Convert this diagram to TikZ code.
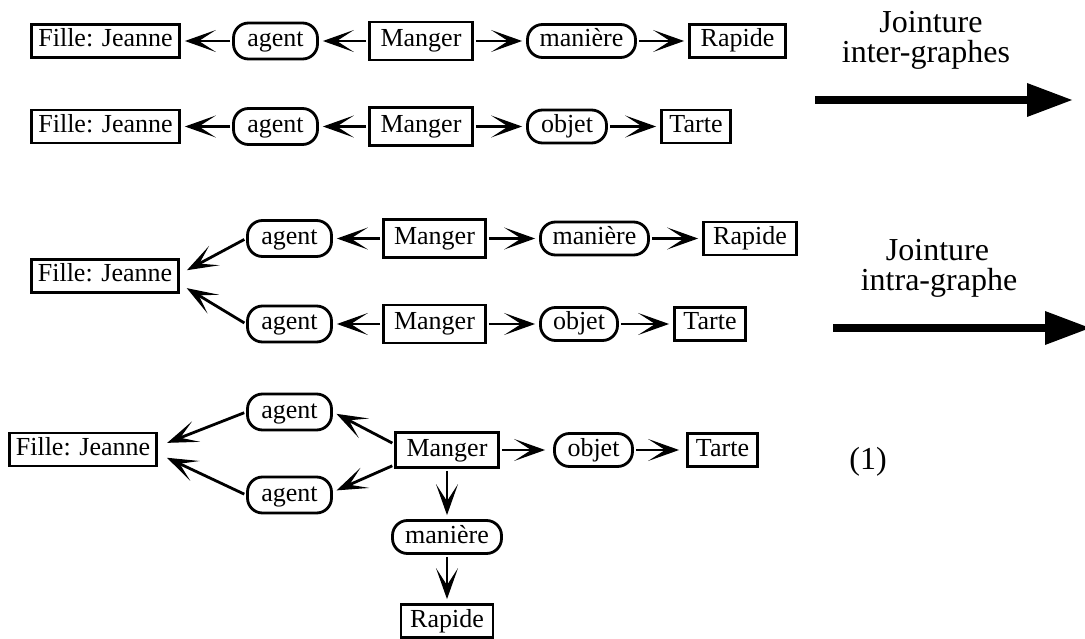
\documentclass[tikz,border=0pt]{standalone}
\usepackage{fontspec}
\setmainfont{Liberation Serif}
\usetikzlibrary{arrows.meta,calc}
\tikzset{
  linktip/.tip={Stealth[length=31pt,width=22pt,inset=17pt,line width=1.3pt]},
  bigtip/.tip={Triangle[length=45pt,width=34pt,line width=0pt]}
}
\begin{document}
\begin{tikzpicture}[x=1pt,y=-1pt,
  every node/.style={font=\fontsize{26}{30}\selectfont},
  concept/.style={draw, line width=2.8pt, inner sep=0pt, text height=18pt, text depth=6pt, minimum height=33pt},
  relation/.style={concept, rounded corners=15pt},
  link/.style={line width=2.8pt, -linktip, shorten <=2pt, shorten >=4pt},
  bigarrow/.style={line width=8pt, -bigtip},
  jlabel/.style={font=\fontsize{32}{36}\selectfont, inner sep=0pt}
]
\path[use as bounding box] (0,0) rectangle (1085,639);
\clip (0,0) rectangle (1085,639);

% --- first pair of graphs
\node[concept, minimum width=148pt] (f1) at (105.5,41) {Fille: Jeanne};
\node[relation, minimum width=84pt, minimum height=36pt] (a1) at (275.5,41) {agent};
\node[concept, minimum width=103pt, minimum height=38pt] (m1) at (421,41) {Manger};
\node[relation, minimum width=108pt] (n1) at (581.5,41) {manière};
\node[concept, minimum width=96pt] (r1) at (737.5,41) {Rapide};
\draw[link] (m1) -- (a1);
\draw[link] (a1) -- (f1);
\draw[link] (m1) -- (n1);
\draw[link] (n1) -- (r1);

\node[concept, minimum width=148pt] (f2) at (105.5,126.5) {Fille: Jeanne};
\node[relation, minimum width=84pt, minimum height=36pt] (a2) at (275.5,126.5) {agent};
\node[concept, minimum width=103pt, minimum height=38pt] (m2) at (421,126.5) {Manger};
\node[relation, minimum width=79pt] (o2) at (567,126.5) {objet};
\node[concept, minimum width=69pt] (t2) at (696,126.5) {Tarte};
\draw[link] (m2) -- (a2);
\draw[link] (a2) -- (f2);
\draw[link] (m2) -- (o2);
\draw[link] (o2) -- (t2);

% --- after the inter-graph join
\node[concept, minimum width=147pt] (f3) at (105,276) {Fille: Jeanne};
\node[relation, minimum width=84pt, minimum height=36pt] (a3) at (289.5,238.5) {agent};
\node[relation, minimum width=84pt, minimum height=36pt] (a4) at (289.5,324) {agent};
\node[concept, minimum width=102pt, minimum height=38pt] (m3) at (434.5,238.5) {Manger};
\node[relation, minimum width=108pt] (n3) at (594.5,238.5) {manière};
\node[concept, minimum width=93pt] (r3) at (750,238.5) {Rapide};
\node[concept, minimum width=102pt, minimum height=38pt] (m4) at (434.5,324) {Manger};
\node[relation, minimum width=77pt] (o4) at (579,324) {objet};
\node[concept, minimum width=71pt] (t4) at (710,324) {Tarte};
\draw[link] (m3) -- (a3);
\draw[link, shorten >=8pt] (a3.west) -- ($(f3.east)+(0,-2)$);
\draw[link] (m3) -- (n3);
\draw[link] (n3) -- (r3);
\draw[link] (m4) -- (a4);
\draw[link, shorten >=8pt] (a4.west) -- ($(f3.east)+(0,8)$);
\draw[link] (m4) -- (o4);
\draw[link] (o4) -- (t4);

% --- after the intra-graph join
\node[concept, minimum width=147pt] (f5) at (83,449.5) {Fille: Jeanne};
\node[relation, minimum width=84pt, minimum height=36pt] (a5) at (289.5,412) {agent};
\node[relation, minimum width=84pt, minimum height=36pt] (a6) at (289.5,495) {agent};
\node[concept, minimum width=103pt, minimum height=35pt] (m5) at (447,450) {Manger};
\node[relation, minimum width=78pt] (o5) at (593.5,450) {objet};
\node[concept, minimum width=70pt] (t5) at (722.5,450) {Tarte};
\node[relation, minimum width=109pt] (n5) at (447,537) {manière};
\node[concept, minimum width=92pt] (r5) at (447,621) {Rapide};
\draw[link, shorten >=10pt] (a5.west) -- ($(f5.east)+(0,-3)$);
\draw[link, shorten >=10pt] (a6.west) -- ($(f5.east)+(0,4)$);
\draw[link] ($(m5.west)+(0,-6)$) -- (a5.east);
\draw[link] ($(m5.west)+(0,15)$) -- ($(a6.east)+(0,-3)$);
\draw[link, shorten >=8pt] (m5) -- (o5);
\draw[link, shorten >=7pt] (o5) -- (t5);
\draw[link] (m5) -- (n5);
\draw[link] (n5) -- (r5);

% --- join operations
\node[jlabel] (j1a) at (931,22) {Jointure};
\node[jlabel] (j1b) at (926,55) {inter-graphes};
\coordinate (s1) at (815,100);
\coordinate (e1) at (1072,100);
\draw[bigarrow] (s1) -- (e1);

\node[jlabel] (j2a) at (937.5,250) {Jointure};
\node[jlabel] (j2b) at (939,283) {intra-graphe};
\coordinate (s2) at (833,328);
\coordinate (e2) at (1090,328);
\draw[bigarrow] (s2) -- (e2);

\node[jlabel] (num) at (868,462) {(1)};
\end{tikzpicture}
\end{document}
